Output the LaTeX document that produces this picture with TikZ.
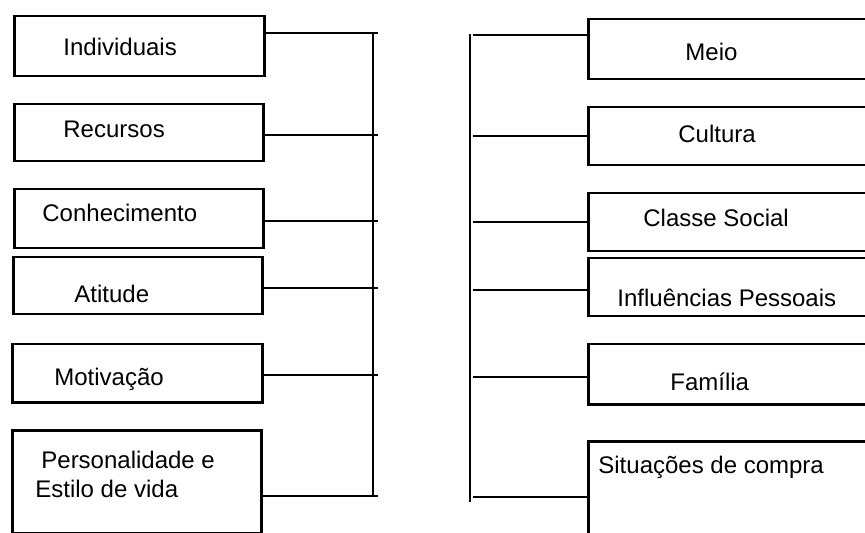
\documentclass[tikz,border=0pt]{standalone}
\usepackage{fontspec}
\setmainfont{Liberation Sans}
\usetikzlibrary{positioning, calc}

\tikzset{
    factor/.style={draw, line width=1.25pt, anchor=north west, inner sep=0pt},
    caption/.style={anchor=base west, inner sep=0pt, font=\fontsize{12}{14.5}\selectfont},
    link/.style={line width=1.25pt}
}

\begin{document}
\begin{tikzpicture}[x=0.5pt, y=-0.5pt]
    \clip (0,0) rectangle (865,533);
    \fill[white] (0,0) rectangle (865,533);

    % the two bus lines
    \coordinate (ltop) at (373,33);
    \coordinate (lbot) at (373,497);
    \coordinate (rtop) at (470,34);
    \coordinate (rbot) at (470,502);
    \draw[link] (ltop) -- (lbot);
    \draw[link] (rtop) -- (rbot);

    % left column of boxes
    \foreach \name/\x/\y/\w/\h in {
        ind/13/15/250/60,
        rec/13/103/249/57,
        con/13/188/249/59,
        ati/12/256/249/57,
        mot/11/343/250/58,
        per/11/429/249/103}{

        \node[factor, minimum width=\w*0.5pt, minimum height=\h*0.5pt] (\name) at (\x,\y) {};
    }

    % right column, boxes run off the right edge
    \foreach \name/\y/\h in {
        meio/18/60,
        cult/106/58,
        cls/192/58,
        inf/257/58,
        fam/343/60,
        sit/440/130}{

        \node[factor, minimum width=150pt, minimum height=\h*0.5pt] (\name) at (587,\y) {};
    }

    % connectors to the buses
    \foreach \name/\y in {ind/33, rec/135, con/221, ati/288, mot/375, per/496}{
        \draw[link] (\name.east |- 0,\y) -- ($(ltop |- 0,\y)+(5,0)$);
    }
    \foreach \name/\y in {meio/35, cult/136, cls/222, inf/290, fam/377, sit/497}{
        \draw[link] ($(rtop |- 0,\y)+(3,0)$) -- (\name.west |- 0,\y);
    }

    % texts
    \foreach \name/\x/\y/\txt in {
        ind/63/56/Individuais,
        rec/63/138/Recursos,
        con/42/222/Conhecimento,
        ati/74/303/Atitude,
        mot/54/385/Motivação,
        perA/41/468/Personalidade e,
        perB/35/497/Estilo de vida,
        meio/685/61/Meio,
        cult/678/143/Cultura,
        cls/643/227/Classe Social,
        inf/617/307/Influências Pessoais,
        fam/670/390/Família,
        sit/598/473/Situações de compra}{

        \node[caption] (\name-t) at (\x,\y) {\txt};
    }
\end{tikzpicture}
\end{document}
